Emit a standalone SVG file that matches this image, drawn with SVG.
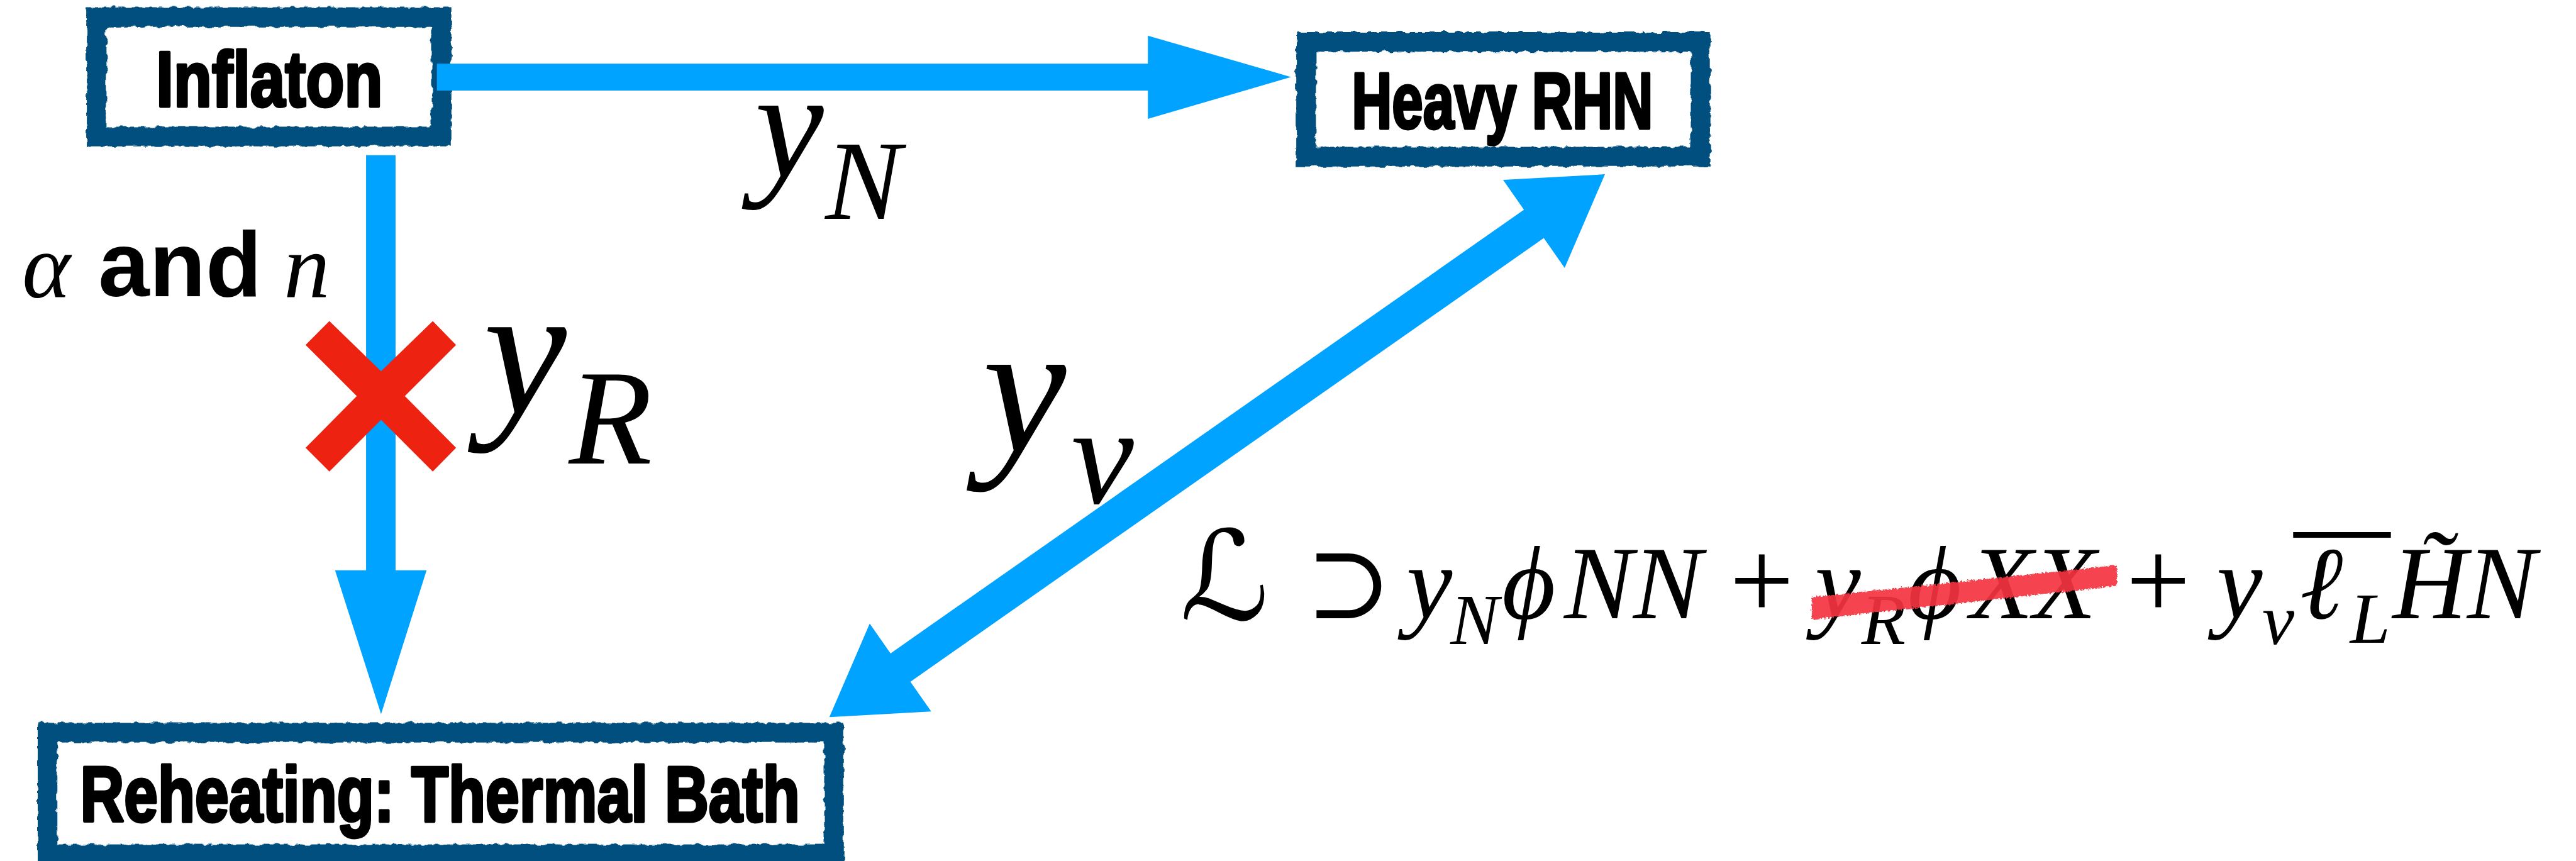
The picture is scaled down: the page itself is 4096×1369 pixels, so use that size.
<svg xmlns="http://www.w3.org/2000/svg" width="4096" height="1369" viewBox="0 0 4096 1369">
<defs>
<style>
.box{fill:#fff;stroke:#00507F;stroke-width:38;filter:url(#grunge)}
.lbl{font-family:"Liberation Sans",Arial,sans-serif;font-weight:bold;fill:#000;stroke:#000;stroke-width:6;stroke-linejoin:round}
.arrow{fill:#00A3FF}
.m{font-family:"Liberation Serif","Times New Roman","DejaVu Serif",serif;font-style:italic;fill:#000}
.mu{font-family:"Liberation Serif","DejaVu Serif","DejaVu Sans",serif;fill:#000}
.sym{font-family:"DejaVu Serif","DejaVu Sans","Noto Sans",serif;fill:#000}
.sans{font-family:"Liberation Sans",Arial,sans-serif;font-weight:bold;fill:#000}
</style>
<filter id="grunge" x="-0.05" y="-0.1" width="1.1" height="1.2">
<feTurbulence type="fractalNoise" baseFrequency="0.07" numOctaves="2" seed="4" result="n"/>
<feDisplacementMap in="SourceGraphic" in2="n" scale="10" xChannelSelector="R" yChannelSelector="G"/>
</filter>
<filter id="scribble" x="-0.05" y="-0.3" width="1.1" height="1.6">
<feTurbulence type="fractalNoise" baseFrequency="0.25" numOctaves="2" seed="7" result="n"/>
<feDisplacementMap in="SourceGraphic" in2="n" scale="9" xChannelSelector="R" yChannelSelector="G"/>
</filter>
</defs>
<rect x="0" y="0" width="4096" height="1369" fill="#fff"/>
<g transform="scale(0.82216)">
<g id="node-inflaton">
<rect class="box" x="187" y="33" width="667" height="231"/>
<text class="lbl" x="302" y="206" font-size="152" textLength="438" lengthAdjust="spacingAndGlyphs">Inflaton</text>
</g>
<g id="node-heavy-rhn">
<rect class="box" x="2526" y="81" width="763" height="222"/>
<text class="lbl" x="2614" y="248" font-size="154" textLength="583" lengthAdjust="spacingAndGlyphs">Heavy RHN</text>
</g>
<g id="node-reheating">
<rect class="box" x="92" y="1417" width="1521" height="235"/>
<text class="lbl" x="155" y="1588" font-size="151" textLength="1392" lengthAdjust="spacingAndGlyphs">Reheating: Thermal Bath</text>
</g>
<g id="connectors">
<polygon class="arrow" points="845,123 2220,123 2220,69 2497,149 2220,230 2220,175 845,175"/>
<polygon class="arrow" points="708,300 765,300 765,1103 825,1103 737,1381 648,1103 708,1103"/>
<polygon class="arrow" points="3104,337 3026,518 2985.7,460.4 1760.7,1318.4 1801,1376 1604,1387 1682,1206 1722.3,1263.6 2947.3,405.6 2907,348"/>
<polygon fill="#ED2210" points="637,621 737,718 837,621 882,667 783,766 882,866 837,912 737,812 637,912 591,866 690,766 591,667"/>
</g>
<g id="labels">
<text class="m" x="1460" y="342" font-size="300">y</text>
<text class="m" x="1596" y="423" font-size="220">N</text>
<text class="m" x="935" y="799" font-size="362">y</text>
<text class="m" x="1100" y="896" font-size="264">R</text>
<text class="m" x="1900" y="873" font-size="365">y</text>
<text class="m" x="2072" y="973" font-size="272">ν</text>
<text class="m" x="43" y="575" font-size="178">α</text>
<text class="sans" x="190" y="573" font-size="178">and</text>
<text class="m" x="549" y="575" font-size="178">n</text>
</g>
<g id="lagrangian">
<text class="sym" x="2282" y="1198" font-size="240" font-style="italic">ℒ</text>
<text class="sym" x="2525" y="1196" font-size="200">⊃</text>
<text class="m" x="2720" y="1196" font-size="200">y</text>
<text class="m" x="2805" y="1245" font-size="140">N</text>
<text class="m" x="2905" y="1196" font-size="200">ϕ</text>
<text class="m" x="3025" y="1196" font-size="200">NN</text>
<text class="mu" x="3345" y="1196" font-size="220">+</text>
<text class="m" x="3510" y="1196" font-size="200">y</text>
<text class="m" x="3600" y="1245" font-size="140">R</text>
<text class="m" x="3690" y="1196" font-size="200">ϕ</text>
<text class="m" x="3810" y="1196" font-size="200">XX</text>
<text class="mu" x="4112" y="1196" font-size="220">+</text>
<text class="m" x="4287" y="1196" font-size="200">y</text>
<text class="m" x="4375" y="1245" font-size="140">ν</text>
<text class="m" x="4448" y="1196" font-size="200">ℓ</text>
<rect x="4435" y="1029" width="189" height="11" fill="#000"/>
<text class="m" x="4545" y="1243" font-size="140">L</text>
<text class="m" x="4627" y="1196" font-size="200">H̃N</text>
</g>
<polygon fill="#F4343F" fill-opacity="0.92" filter="url(#scribble)" points="3504,1155 4094,1093 4094,1133 3504,1198"/>
</g>
</svg>
